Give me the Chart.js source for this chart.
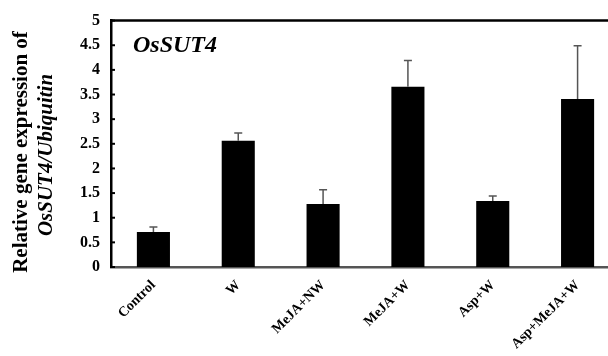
<!DOCTYPE html>
<html lang="en">
<head>
  <meta charset="UTF-8" />
  <title>OsSUT4 expression</title>
  <script src="https://cdn.jsdelivr.net/npm/chart.js"></script>
  <style>
    * { margin: 0; padding: 0; box-sizing: border-box; }
    html, body { width: 608px; height: 356px; overflow: hidden; background: #fff; }
    canvas { display: block; }
  </style>
</head>
<body>
  <canvas id="chart" width="620" height="356"></canvas>

  <script>
    // data
    const categories = ['Control', 'W', 'MeJA+NW', 'MeJA+W', 'Asp+W', 'Asp+MeJA+W'];
    const expression = [0.71, 2.56, 1.28, 3.66, 1.34, 3.41];
    const errorUp = [0.10, 0.16, 0.29, 0.53, 0.10, 1.08];
    const yTicks = [0, 0.5, 1, 1.5, 2, 2.5, 3, 3.5, 4, 4.5, 5];

    const serif = '"Liberation Serif", "Times New Roman", serif';

    // error whiskers, inner tick marks, frame and axis title
    const extras = {
      id: 'extras',
      afterDatasetsDraw(chart) {
        const c = chart.ctx, a = chart.chartArea;
        const x = chart.scales.x, y = chart.scales.y;
        c.save();
        // whiskers (upper only)
        c.strokeStyle = '#555';
        c.lineWidth = 1.5;
        expression.forEach((v, i) => {
          const px = x.getPixelForValue(i);
          const top = y.getPixelForValue(v + errorUp[i]);
          const base = y.getPixelForValue(v);
          c.beginPath();
          c.moveTo(px, base);
          c.lineTo(px, top);
          c.moveTo(px - 4, top);
          c.lineTo(px + 4, top);
          c.stroke();
        });
        // tick marks pointing inward
        c.strokeStyle = '#000';
        c.lineWidth = 2;
        yTicks.forEach(t => {
          const py = y.getPixelForValue(t);
          c.beginPath();
          c.moveTo(a.left, py);
          c.lineTo(a.left + 4, py);
          c.stroke();
        });
        // top frame line
        c.lineWidth = 2.5;
        c.beginPath();
        c.moveTo(a.left - 1, a.top);
        c.lineTo(chart.width, a.top);
        c.stroke();
        // gene name
        c.fillStyle = '#000';
        c.font = 'italic bold 24px ' + serif;
        c.textAlign = 'left';
        c.textBaseline = 'middle';
        c.fillText('OsSUT4', a.left + 22, 46);
        // y title, two lines
        c.translate(0, 152);
        c.rotate(-Math.PI / 2);
        c.textAlign = 'center';
        c.textBaseline = 'middle';
        c.font = 'bold 21px ' + serif;
        c.fillText('Relative gene expression of', 0, 22);
        c.font = 'italic bold 21px ' + serif;
        c.fillText('OsSUT4/Ubiquitin', -3, 47);
        c.restore();
      }
    };

    new Chart(document.getElementById('chart'), {
      type: 'bar',
      data: {
        labels: categories,
        datasets: [{
          data: expression,
          backgroundColor: '#000',
          borderColor: '#000',
          barPercentage: 0.39,
          categoryPercentage: 1
        }]
      },
      options: {
        responsive: false,
        animation: false,
        layout: { padding: { top: 13, right: 0, left: 0, bottom: 0 } },
        plugins: { legend: { display: false }, tooltip: { enabled: false } },
        scales: {
          x: {
            grid: { display: false, drawTicks: false },
            border: { color: '#555', width: 2.5 },
            ticks: {
              color: '#000',
              font: { family: serif, weight: 'bold', size: 14 },
              minRotation: 45,
              maxRotation: 45,
              padding: 10
            },
            afterFit(s) { s.height = 89; }
          },
          y: {
            min: 0,
            max: 5,
            afterBuildTicks(s) { s.ticks = yTicks.map(v => ({ value: v })); },
            grid: { display: false, drawTicks: false },
            border: { color: '#000', width: 2.5 },
            ticks: {
              color: '#000',
              font: { family: serif, weight: 'bold', size: 16 },
              padding: 11,
              callback: v => String(v)
            },
            afterFit(s) { s.width = 111; }
          }
        }
      },
      plugins: [extras]
    });
  </script>
</body>
</html>
